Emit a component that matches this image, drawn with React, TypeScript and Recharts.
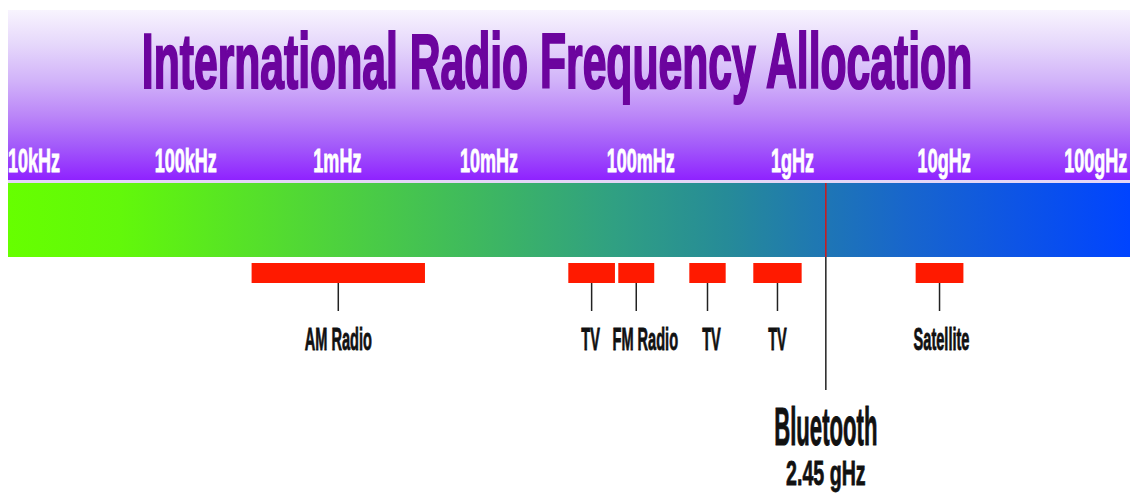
import { ComposedChart, XAxis, YAxis, ReferenceArea, ReferenceLine, ReferenceDot } from "recharts";

// axis range (edges of the coloured bar)
const FREQ_MIN = 6.74e3;
const FREQ_MAX = 1.68e11;

const tickFreqs = [1e4, 1e5, 1e6, 1e7, 1e8, 1e9, 1e10, 1e11];
const tickLabels = ["10kHz", "100kHz", "1mHz", "10mHz", "100mHz", "1gHz", "10gHz", "100gHz"];

const bandNames = ["AM Radio", "TV", "FM Radio", "TV", "TV", "Satellite"];
const bandLow = [2.72e5, 3.33e7, 7.11e7, 2.09e8, 5.52e8, 6.49e9];
const bandHigh = [3.78e6, 6.76e7, 1.227e8, 3.63e8, 1.15e9, 1.34e10];
// small horizontal nudges of the band captions (px), as in the original
const bandLabelShift = [0, -1, 9, 4, 0, 2];

const bluetoothFreq = 1.66e9;
const bluetoothText = ["Bluetooth", "2.45 gHz"];

const TITLE = "International Radio Frequency Allocation";

// vertical layout (y axis runs in page pixels)
const HEAD_TOP = 10;
const HEAD_BOTTOM = 180;
const BAR_TOP = 183;
const BAR_BOTTOM = 257;
const BAND_TOP = 263;
const BAND_BOTTOM = 283;
const CONNECT_BOTTOM = 311;
const BAND_LABEL_Y = 350;
const TICK_LABEL_Y = 172;
const BT_LINE_BOTTOM = 390;

const FONT = "'Liberation Sans', Arial, sans-serif";

const bandRows = bandNames.map((name, i) => ({
  name,
  lo: bandLow[i],
  hi: bandHigh[i],
  mid: Math.sqrt(bandLow[i] * bandHigh[i]),
}));

const makeLabel =
  (text: string, size: number, sx: number, fill: string, weight = 0.6, dx = 0) =>
  (props: any) => {
    const vb = props.viewBox || {};
    const x = (vb.x ?? 0) + (vb.width ?? 0) / 2 + dx;
    const y = (vb.y ?? 0) + (vb.height ?? 0) / 2;
    return (
      <text
        transform={`translate(${x},${y}) scale(${sx},1)`}
        textAnchor="middle"
        fontFamily={FONT}
        fontWeight={700}
        fontSize={size}
        fill={fill}
        stroke={fill}
        strokeWidth={weight}
      >
        {text}
      </text>
    );
  };

// title sits inside the header band
const titleLabel = (props: any) => {
  const vb = props.viewBox || {};
  const x = (vb.x ?? 0) + (vb.width ?? 0) / 2 - 12;
  return (
    <text
      transform={`translate(${x},88) scale(0.547,1)`}
      textAnchor="middle"
      fontFamily={FONT}
      fontWeight={700}
      fontSize={78}
      fill="#6c049e"
      stroke="#6c049e"
      strokeWidth={2.2}
    >
      {TITLE}
    </text>
  );
};

export default function App() {
  return (
    <div style={{ position: "absolute", left: 0, top: 0, width: 1130, height: 496, background: "#fff" }}>
      <ComposedChart
        width={1130}
        height={496}
        data={bandRows}
        margin={{ top: 0, right: 0, bottom: 0, left: 8 }}
      >
        <defs>
          <linearGradient id="headGrad" x1="0" y1="0" x2="0" y2="1">
            <stop offset="0%" stopColor="#f8f4fe" />
            <stop offset="20%" stopColor="#e6d8fb" />
            <stop offset="42%" stopColor="#d1b2f9" />
            <stop offset="62%" stopColor="#bb86f8" />
            <stop offset="80%" stopColor="#a35afa" />
            <stop offset="100%" stopColor="#8f22ff" />
          </linearGradient>
          <linearGradient id="barGrad" x1="0" y1="0" x2="1" y2="0">
            <stop offset="0%" stopColor="#66ff00" />
            <stop offset="10%" stopColor="#62f80a" />
            <stop offset="28%" stopColor="#4fd43a" />
            <stop offset="43%" stopColor="#3db662" />
            <stop offset="54%" stopColor="#30a082" />
            <stop offset="64%" stopColor="#268b98" />
            <stop offset="72%" stopColor="#1f78b2" />
            <stop offset="80%" stopColor="#1866cc" />
            <stop offset="90%" stopColor="#0d54e6" />
            <stop offset="100%" stopColor="#0044ff" />
          </linearGradient>
        </defs>
        <XAxis
          type="number"
          dataKey="mid"
          scale="log"
          domain={[FREQ_MIN, FREQ_MAX]}
          allowDataOverflow
          hide
        />
        <YAxis type="number" domain={[0, 496]} reversed allowDataOverflow hide />

        <ReferenceArea
          y1={HEAD_TOP}
          y2={HEAD_BOTTOM}
          fill="url(#headGrad)"
          fillOpacity={1}
          stroke="none"
          label={titleLabel}
        />
        <ReferenceArea y1={HEAD_BOTTOM} y2={BAR_TOP} fill="#e4d6f6" fillOpacity={1} stroke="none" />
        <ReferenceArea y1={BAR_TOP} y2={BAR_BOTTOM} fill="url(#barGrad)" fillOpacity={1} stroke="none" />

        {tickFreqs.map((f, i) => (
          <ReferenceDot
            key={"t" + i}
            x={f}
            y={TICK_LABEL_Y}
            r={0}
            fill="none"
            stroke="none"
            label={makeLabel(tickLabels[i], 34, 0.53, "#ffffff", 0.9)}
          />
        ))}

        {bandRows.map((b, i) => (
          <ReferenceArea
            key={"b" + i}
            x1={b.lo}
            x2={b.hi}
            y1={BAND_TOP}
            y2={BAND_BOTTOM}
            fill="#ff1a00"
            fillOpacity={1}
            stroke="none"
          />
        ))}
        {bandRows.map((b, i) => (
          <ReferenceLine
            key={"c" + i}
            segment={[
              { x: b.mid, y: BAND_BOTTOM },
              { x: b.mid, y: CONNECT_BOTTOM },
            ]}
            stroke="#222"
            strokeWidth={1.5}
          />
        ))}
        {bandRows.map((b, i) => (
          <ReferenceDot
            key={"l" + i}
            x={b.mid}
            y={BAND_LABEL_Y}
            r={0}
            fill="none"
            stroke="none"
            label={makeLabel(b.name, 31, 0.47, "#111", 0.8, bandLabelShift[i])}
          />
        ))}

        <ReferenceLine
          segment={[
            { x: bluetoothFreq, y: BAR_TOP },
            { x: bluetoothFreq, y: BAR_BOTTOM },
          ]}
          stroke="#d01818"
          strokeWidth={1.5}
        />
        <ReferenceLine
          segment={[
            { x: bluetoothFreq, y: BAR_BOTTOM },
            { x: bluetoothFreq, y: BT_LINE_BOTTOM },
          ]}
          stroke="#222"
          strokeWidth={1.5}
        />
        <ReferenceDot
          x={bluetoothFreq}
          y={445}
          r={0}
          fill="none"
          stroke="none"
          label={makeLabel(bluetoothText[0], 54, 0.41, "#111", 1)}
        />
        <ReferenceDot
          x={bluetoothFreq}
          y={485}
          r={0}
          fill="none"
          stroke="none"
          label={makeLabel(bluetoothText[1], 35, 0.56, "#111", 0.8)}
        />
      </ComposedChart>
    </div>
  );
}
